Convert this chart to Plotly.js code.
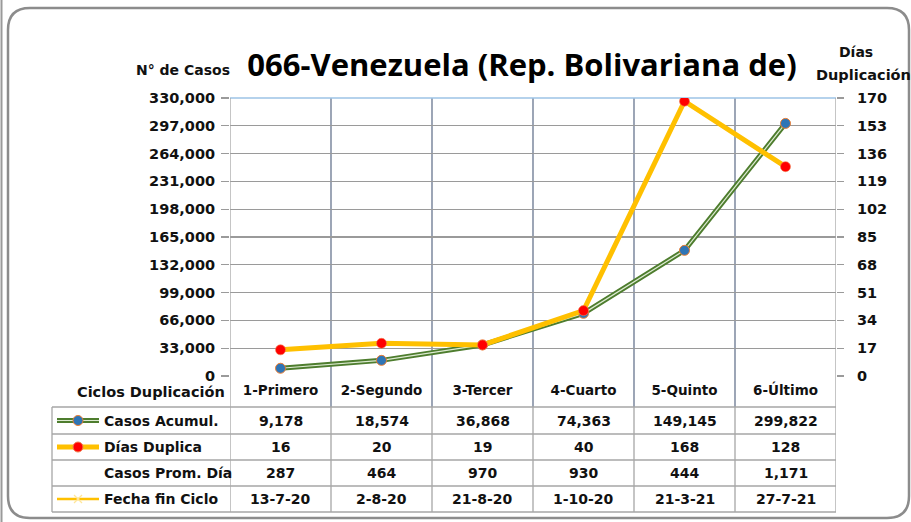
<!DOCTYPE html>
<html>
<head>
<meta charset="utf-8">
<script src="https://cdn.plot.ly/plotly-3.0.1.min.js"></script>
<style>
html,body{margin:0;padding:0;background:#fff;}
#chart{width:911px;height:522px;}
</style>
</head>
<body>
<div id="chart"></div>
<script>
// ---- data ----
const categories = ['1-Primero', '2-Segundo', '3-Tercer', '4-Cuarto', '5-Quinto', '6-Último'];
const casosAcumul = [9178, 18574, 36868, 74363, 149145, 299822];
const diasDuplica = [16, 20, 19, 40, 168, 128];
const casosPromDia = [287, 464, 970, 930, 444, 1171];
const fechaFinCiclo = ['13-7-20', '2-8-20', '21-8-20', '1-10-20', '21-3-21', '27-7-21'];
const rowLabels = ['Casos Acumul.', 'Días Duplica', 'Casos Prom. Día', 'Fecha fin Ciclo'];
const titleText = '066-Venezuela (Rep. Bolivariana de)';

// ---- layout geometry (pixels) ----
const W = 911, H = 522;
const L = 230, R = 836, T = 98, B = 376;
const PW = R - L, PH = B - T;
const X = px => (px - L) / PW;
const Y = py => (B - py) / PH;

const SMALL = 'DejaVu Sans, Verdana, sans-serif';
const fmt = v => v.toLocaleString('en-US');

const traces = [
  { x: categories, y: casosAcumul, type: 'scatter', mode: 'lines', yaxis: 'y',
    line: { color: '#4E7D2E', width: 5 }, hoverinfo: 'skip', showlegend: false },
  { x: categories, y: casosAcumul, type: 'scatter', mode: 'lines+markers', yaxis: 'y',
    name: 'Casos Acumul.',
    line: { color: '#DDEBD2', width: 1.2 },
    marker: { color: '#2E75B6', size: 10, line: { color: '#ED7D31', width: 1 } },
    showlegend: false },
  { x: categories, y: diasDuplica, type: 'scatter', mode: 'lines+markers', yaxis: 'y2',
    name: 'Días Duplica',
    line: { color: '#FFC000', width: 5 },
    marker: { color: '#FF0000', size: 10, line: { color: '#F08050', width: 0.6 } },
    showlegend: false }
];

const shapes = [];
const GRID_NAVY = '#5B6A85', TABLE_GREY = '#A6A6A6';
// outer rounded frame
(function(){
  const x0 = 8, x1 = 909, y0 = 8, y1 = 518, r = 22;
  const p = (x, y) => X(x).toFixed(5) + ',' + Y(y).toFixed(5);
  const path = 'M' + p(x0 + r, y0) + ' L' + p(x1 - r, y0) + ' Q' + p(x1, y0) + ' ' + p(x1, y0 + r) +
    ' L' + p(x1, y1 - r) + ' Q' + p(x1, y1) + ' ' + p(x1 - r, y1) +
    ' L' + p(x0 + r, y1) + ' Q' + p(x0, y1) + ' ' + p(x0, y1 - r) +
    ' L' + p(x0, y0 + r) + ' Q' + p(x0, y0) + ' ' + p(x0 + r, y0) + ' Z';
  shapes.push({ type: 'path', xref: 'paper', yref: 'paper', path: path,
    line: { color: '#8C8C8C', width: 2.5 }, layer: 'below' });
})();
// partial frame of neighbouring chart at far left
shapes.push({ type: 'line', xref: 'paper', yref: 'paper', x0: X(1.5), x1: X(1.5), y0: Y(0), y1: Y(522),
  line: { color: '#9A9A9A', width: 2 } });

// vertical category boundaries
for (let i = 0; i <= categories.length; i++) {
  const xb = i - 0.5;
  const edge = (i === 0 || i === categories.length);
  if (edge) {
    shapes.push({ type: 'line', xref: 'x', yref: 'paper', x0: xb, x1: xb, y0: 1, y1: Y(512),
      line: { color: TABLE_GREY, width: 1.3 } });
  } else {
    shapes.push({ type: 'line', xref: 'x', yref: 'paper', x0: xb, x1: xb, y0: 1, y1: Y(407),
      line: { color: GRID_NAVY, width: 1.2 }, layer: 'below' });
    shapes.push({ type: 'line', xref: 'x', yref: 'paper', x0: xb, x1: xb, y0: Y(407), y1: Y(512),
      line: { color: TABLE_GREY, width: 1.3 } });
  }
}
// top border light blue
shapes.push({ type: 'line', xref: 'paper', yref: 'paper', x0: 0, x1: 1, y0: 1, y1: 1,
  line: { color: '#9DC3E6', width: 1.5 }, layer: 'below' });
// table horizontal lines
[407, 434, 460, 486, 512].forEach(py => {
  shapes.push({ type: 'line', xref: 'paper', yref: 'paper', x0: X(52), x1: 1, y0: Y(py), y1: Y(py),
    line: { color: TABLE_GREY, width: 1.3 } });
});
shapes.push({ type: 'line', xref: 'paper', yref: 'paper', x0: X(52), x1: X(52), y0: Y(407), y1: Y(512),
  line: { color: TABLE_GREY, width: 1.3 } });

// legend keys in table
const rowCenters = [420.5, 447, 473, 499];
function keyLine(py, color, w) {
  shapes.push({ type: 'line', xref: 'paper', yref: 'paper', x0: X(57), x1: X(99), y0: Y(py), y1: Y(py),
    line: { color: color, width: w } });
}
function keyCircle(py, fill, stroke) {
  const cx = 78, r = 5;
  shapes.push({ type: 'circle', xref: 'paper', yref: 'paper', x0: X(cx - r), x1: X(cx + r), y0: Y(py - r), y1: Y(py + r),
    fillcolor: fill, line: { color: stroke, width: 1 } });
}
keyLine(rowCenters[0], '#4E7D2E', 5); keyLine(rowCenters[0], '#DDEBD2', 1.2); keyCircle(rowCenters[0], '#2E75B6', '#ED7D31');
keyLine(rowCenters[1], '#FFC000', 5); keyCircle(rowCenters[1], '#FF0000', '#F08050');
keyLine(rowCenters[3], '#FFC000', 2.5);
[[-4, -4, 4, 4], [-4, 4, 4, -4]].forEach(d => {
  shapes.push({ type: 'line', xref: 'paper', yref: 'paper', x0: X(78 + d[0]), x1: X(78 + d[2]),
    y0: Y(rowCenters[3] + d[1]), y1: Y(rowCenters[3] + d[3]), line: { color: '#FFE699', width: 1.3 } });
});

// annotations
const annotations = [];
const cellFont = { family: SMALL, size: 14, color: '#111', weight: 'bold' };
const rows = [casosAcumul.map(fmt), diasDuplica.map(String), casosPromDia.map(fmt), fechaFinCiclo];
rows.forEach((vals, r) => {
  vals.forEach((v, i) => {
    annotations.push({ xref: 'x', yref: 'paper', x: i, y: Y(rowCenters[r]), text: '<b>' + v + '</b>',
      showarrow: false, xanchor: 'center', yanchor: 'middle', font: cellFont });
  });
  annotations.push({ xref: 'paper', yref: 'paper', x: X(102), y: Y(rowCenters[r]), text: '<b>' + rowLabels[r] + '</b>',
    showarrow: false, xanchor: 'left', yanchor: 'middle', font: cellFont });
});
annotations.push({ xref: 'paper', yref: 'paper', x: X(227), y: Y(392), text: '<b>Ciclos Duplicación</b>',
  showarrow: false, xanchor: 'right', yanchor: 'middle', font: { family: SMALL, size: 14.5, color: '#111' } });
annotations.push({ xref: 'paper', yref: 'paper', x: X(183), y: Y(70), text: '<b>N° de Casos</b>',
  showarrow: false, xanchor: 'center', yanchor: 'middle', font: { family: SMALL, size: 14, color: '#111' } });
annotations.push({ xref: 'paper', yref: 'paper', x: X(856), y: Y(52), text: '<b>Días</b>',
  showarrow: false, xanchor: 'center', yanchor: 'middle', font: { family: SMALL, size: 14, color: '#111' } });
annotations.push({ xref: 'paper', yref: 'paper', x: X(864), y: Y(75), text: '<b>Duplicación</b>',
  showarrow: false, xanchor: 'center', yanchor: 'middle', font: { family: SMALL, size: 14.5, color: '#111' } });

const layout = {
  width: W, height: H,
  margin: { l: L, r: W - R, t: T, b: H - B, pad: 0 },
  paper_bgcolor: '#FFFFFF', plot_bgcolor: '#FFFFFF',
  showlegend: false,
  title: { text: '<b>' + titleText + '</b>', x: 522 / W, xanchor: 'center', y: 1 - 65 / H, yanchor: 'middle',
    xref: 'container', yref: 'container',
    font: { family: 'Open Sans, sans-serif', size: 31, color: '#000' } },
  xaxis: {
    type: 'category', categoryorder: 'array', categoryarray: categories,
    range: [-0.5, categories.length - 0.5],
    showgrid: false, zeroline: false, showline: false, ticks: '',
    tickfont: { family: SMALL, size: 13.5, color: '#111', weight: 'bold' },
    ticklabelstandoff: 4, automargin: false, fixedrange: true
  },
  yaxis: {
    range: [0, 330000], tickmode: 'linear', tick0: 0, dtick: 33000, tickformat: ',d',
    showgrid: true, gridcolor: '#9A9A9A', gridwidth: 1.2,
    zeroline: false, showline: false,
    ticks: 'outside', ticklen: 8, tickcolor: '#9A9A9A', tickwidth: 1.2,
    tickfont: { family: SMALL, size: 14.5, color: '#111', weight: 'bold' },
    ticklabelstandoff: 3, automargin: false, fixedrange: true
  },
  yaxis2: {
    overlaying: 'y', side: 'right',
    range: [0, 170], tickmode: 'linear', tick0: 0, dtick: 17,
    showgrid: false, zeroline: false, showline: false,
    ticks: 'outside', ticklen: 7, tickcolor: '#9A9A9A', tickwidth: 1.2,
    tickfont: { family: SMALL, size: 14.5, color: '#111', weight: 'bold' },
    ticklabelstandoff: 10, automargin: false, fixedrange: true
  },
  shapes: shapes,
  annotations: annotations
};

Plotly.newPlot('chart', traces, layout, { staticPlot: true, displayModeBar: false });
</script>
</body>
</html>
